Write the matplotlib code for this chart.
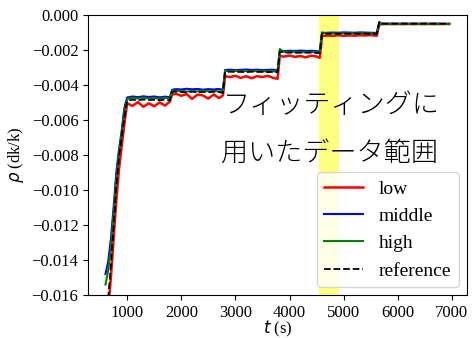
import numpy as np
import matplotlib
matplotlib.use("Agg")
import matplotlib.pyplot as plt

plt.rcParams['font.family'] = ['Liberation Serif', 'DejaVu Serif']
plt.rcParams['mathtext.fontset'] = 'dejavusans'
plt.rcParams['font.size'] = 12

# time (s)
t = [600, 650, 700, 750, 800, 850, 900, 950, 1000,
     1100, 1200, 1300, 1400, 1500, 1600, 1700, 1790,
     1830, 1900, 2000, 2100, 2200, 2300, 2400, 2500, 2600, 2700, 2770,
     2810, 2900, 3000, 3100, 3200, 3300, 3400, 3500, 3600, 3700, 3780,
     3820, 3900, 4000, 4100, 4200, 4300, 4400, 4500, 4560,
     4600, 4700, 4800, 4900, 5000, 5100, 5200, 5300, 5400, 5500, 5610,
     5660, 5700, 5800, 5900, 6000, 6100, 6200, 6300, 6400, 6500, 6600,
     6700, 6800, 6900, 6950]

# reactivity, in units of 1e-3 dk/k
low = [np.nan, -16.8, -15.0, -12.8, -10.6, -8.8, -7.5, -6.2, -5.05,
       -5.20, -4.98, -5.25, -5.05, -5.22, -5.00, -5.18, -4.95,
       -4.55, -4.50, -4.62, -4.52, -4.80, -4.55, -4.60, -4.78, -4.55, -4.75, -4.60,
       -3.50, -3.55, -3.48, -3.60, -3.50, -3.62, -3.50, -3.55, -3.48, -3.60, -3.65,
       -2.35, -2.38, -2.32, -2.40, -2.35, -2.42, -2.33, -2.38, -2.45,
       -1.22, -1.18, -1.20, -1.16, -1.20, -1.17, -1.19, -1.16, -1.18, -1.15, -1.20,
       -0.55, -0.53, -0.52, -0.53, -0.52, -0.53, -0.52, -0.53, -0.52, -0.53, -0.52,
       -0.53, -0.52, -0.52, -0.52]
middle = [-14.8, -14.1, -12.8, -11.0, -9.0, -7.7, -6.6, -5.3, -4.72,
          -4.66, -4.70, -4.65, -4.69, -4.66, -4.71, -4.67, -4.70,
          -4.28, -4.24, -4.26, -4.22, -4.25, -4.23, -4.27, -4.24, -4.26, -4.23, -4.28,
          -3.15, -3.13, -3.16, -3.14, -3.12, -3.15, -3.13, -3.16, -3.14, -3.13, -3.18,
          -2.05, -2.07, -2.05, -2.06, -2.04, -2.06, -2.05, -2.07, -2.08,
          -1.05, -1.02, -1.01, -1.02, -1.00, -1.01, -1.02, -1.00, -1.01, -1.02, -1.03,
          -0.42, -0.50, -0.51, -0.50, -0.51, -0.50, -0.51, -0.50, -0.51, -0.50, -0.51,
          -0.50, -0.51, -0.51, -0.51]
high = [-15.4, -14.6, -13.3, -11.4, -9.3, -7.9, -6.8, -5.5, -4.80,
        -4.74, -4.77, -4.73, -4.78, -4.75, -4.79, -4.74, -4.77,
        -4.32, -4.36, -4.34, -4.38, -4.35, -4.37, -4.33, -4.36, -4.34, -4.37, -4.38,
        -3.20, -3.22, -3.20, -3.23, -3.21, -3.22, -3.20, -3.23, -3.21, -3.22, -3.25,
        -1.95, -2.12, -2.13, -2.11, -2.14, -2.12, -2.13, -2.12, -2.15,
        -1.00, -1.06, -1.05, -1.06, -1.05, -1.06, -1.05, -1.06, -1.05, -1.06, -1.07,
        -0.45, -0.51, -0.52, -0.51, -0.52, -0.51, -0.52, -0.51, -0.52, -0.51, -0.52,
        -0.51, -0.52, -0.52, -0.52]
reference = [np.nan, -16.2, -14.3, -12.1, -9.8, -8.1, -7.0, -5.8, -4.90,
             -4.85, -4.87, -4.84, -4.86, -4.85, -4.87, -4.84, -4.88,
             -4.40, -4.38, -4.40, -4.42, -4.39, -4.41, -4.40, -4.42, -4.39, -4.41, -4.45,
             -3.26, -3.24, -3.26, -3.25, -3.27, -3.24, -3.26, -3.25, -3.27, -3.25, -3.28,
             -2.10, -2.16, -2.15, -2.17, -2.15, -2.16, -2.15, -2.17, -2.18,
             -1.05, -1.08, -1.07, -1.08, -1.07, -1.08, -1.07, -1.08, -1.07, -1.08, -1.09,
             -0.40, -0.50, -0.51, -0.50, -0.51, -0.50, -0.51, -0.50, -0.51, -0.50, -0.51,
             -0.50, -0.51, -0.51, -0.51]

fit_range = (4550, 4910)

fig = plt.figure(figsize=(4.74, 3.38), dpi=100)
ax = fig.add_axes([0.186, 0.127, 0.799, 0.829])

ax.axvspan(fit_range[0], fit_range[1], color='yellow', alpha=0.5, lw=0)
ax.plot(t, np.array(low) * 1e-3, 'r', lw=1.8, label='low')
ax.plot(t, np.array(middle) * 1e-3, 'b', lw=1.5, label='middle')
ax.plot(t, np.array(high) * 1e-3, 'g', lw=1.5, label='high')
ax.plot(t, np.array(reference) * 1e-3, 'k--', lw=1.3, label='reference')

ax.set_xlim(280, 7277)
ax.set_ylim(-0.016, 0.0)
ax.set_xticks([1000, 2000, 3000, 4000, 5000, 6000, 7000])
ax.set_yticks(np.arange(-0.016, 0.001, 0.002))
ax.yaxis.set_major_formatter(matplotlib.ticker.FuncFormatter(
    lambda v, p: ('%.3f' % v).replace('-', '\u2212')))

ax.set_xlabel('$t$ (s)', labelpad=-1.5)
ax.set_ylabel(r'$\rho$ (dk/k)')

jp = dict(family=['Noto Sans CJK JP', 'DejaVu Sans'], fontsize=19.5, weight='light',
          transform=ax.transAxes, va='center', ha='left')
ax.text(0.355, 0.680, 'フィッティングに', **jp)
ax.text(0.350, 0.505, '用いたデータ範囲', **jp)

ax.legend(loc='lower right', fontsize=14, handlelength=2.0,
          borderaxespad=0.4)

fig.savefig('out.png', dpi=100)
